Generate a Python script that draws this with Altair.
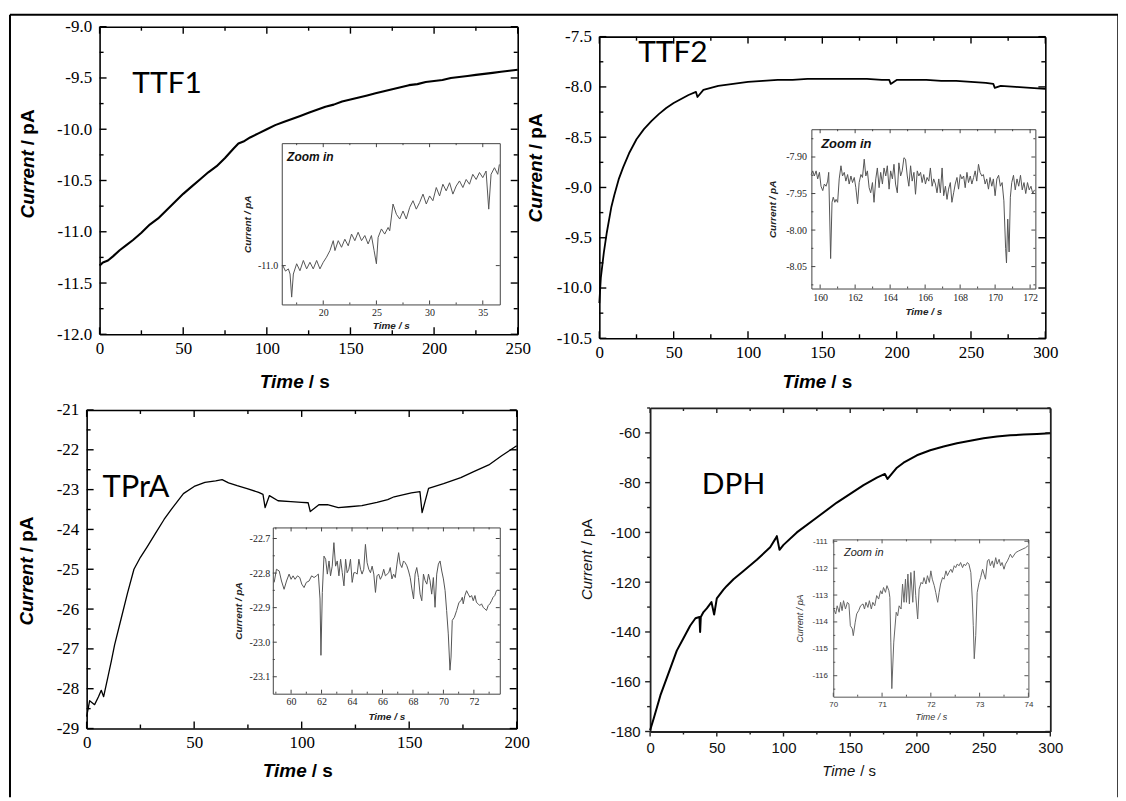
import altair as alt
import pandas as pd

# ---------------- main traces ----------------
ttf1_t = [0, 2, 5, 8, 12, 16, 20, 25, 30, 35, 40, 45, 50, 55, 60, 65, 70, 75, 80, 83,
          86, 90, 95, 100, 105, 110, 115, 120, 125, 130, 135, 140, 145, 150, 155, 160, 165, 170, 175, 180,
          185, 190, 195, 200, 205, 210, 215, 220, 225, 230, 235, 240, 245, 250]
ttf1_i = [-11.33, -11.30, -11.28, -11.24, -11.18, -11.13, -11.08, -11.01, -10.93, -10.87,
          -10.79, -10.71, -10.63, -10.56, -10.49, -10.42, -10.36, -10.28, -10.19, -10.14,
          -10.12, -10.08, -10.04, -10.00, -9.96, -9.93, -9.90, -9.87, -9.84, -9.81,
          -9.78, -9.76, -9.73, -9.71, -9.69, -9.67, -9.65, -9.63, -9.61, -9.59,
          -9.57, -9.56, -9.54, -9.53, -9.52, -9.50, -9.49, -9.48, -9.47, -9.46,
          -9.45, -9.44, -9.43, -9.42]

ttf2_t = [0, 1, 3, 5, 8, 10, 13, 16, 20, 25, 30, 35, 40, 45, 50, 55, 60, 65, 66, 70,
          75, 80, 90, 100, 110, 120, 130, 140, 150, 160, 170, 180, 190, 195, 196, 200, 210, 220, 230, 240,
          250, 260, 265, 266, 270, 280, 290, 300]
ttf2_i = [-10.15, -9.90, -9.65, -9.45, -9.20, -9.08, -8.92, -8.80, -8.66, -8.52,
          -8.42, -8.34, -8.27, -8.21, -8.16, -8.12, -8.08, -8.05, -8.10, -8.03,
          -8.01, -7.99, -7.97, -7.95, -7.94, -7.93, -7.93, -7.92, -7.92, -7.92,
          -7.92, -7.92, -7.93, -7.93, -7.97, -7.93, -7.93, -7.93, -7.94, -7.94,
          -7.95, -7.96, -7.97, -8.01, -7.99, -8.00, -8.01, -8.02]

tpra_t = [0, 1.4, 3.7, 5.5, 6.8, 7.9, 9.9, 11.5, 13, 16, 19, 22, 25, 28, 32, 36, 40, 45, 50, 55,
          60, 63, 66, 70, 75, 80, 82, 83, 85, 89, 95, 100, 103, 104, 108, 112, 117, 122, 128, 135,
          140, 143, 151, 155, 156, 159, 166, 174, 180, 187, 193, 200]
tpra_i = [-28.7, -28.3, -28.4, -28.2, -28.04, -28.2, -27.7, -27.3, -26.9, -26.25,
          -25.6, -25.0, -24.7, -24.45, -24.1, -23.75, -23.45, -23.1, -22.92, -22.82,
          -22.78, -22.75, -22.83, -22.9, -22.98, -23.07, -23.12, -23.45, -23.15, -23.28,
          -23.3, -23.32, -23.33, -23.55, -23.38, -23.38, -23.45, -23.43, -23.4, -23.32,
          -23.25, -23.18, -23.08, -23.05, -23.58, -22.97, -22.85, -22.7, -22.55, -22.38,
          -22.15, -21.9]

dph_t = [0, 2.7, 7.7, 15, 20, 25, 30, 34, 37, 37.5, 38, 40, 42.5, 46, 48, 50, 55, 57.5, 62.5, 70,
         80, 90, 94, 95, 97, 100, 110, 125, 140, 150, 160, 170, 176, 178, 185, 190, 200, 210, 220, 230,
         240, 250, 260, 270, 280, 290, 300]
dph_i = [-179.5, -174.8, -165.5, -154.8, -147.5, -142.5, -137.5, -134.5, -134, -140,
         -134, -132, -130.5, -128, -133, -126.5, -123, -121.5, -118.8, -115.5,
         -111, -106, -102.5, -101.5, -107, -105, -100, -94, -88, -84.5,
         -81, -78, -76.5, -78.5, -74, -72, -69, -67, -65.5, -64.2,
         -63.2, -62.2, -61.5, -61, -60.7, -60.5, -60.2]

# ---------------- zoom-in traces ----------------
ttf1z_t = [16.20, 16.45, 16.72, 16.88, 17.03, 17.19, 17.50, 17.81, 18.13, 18.44,
           18.75, 19.06, 19.38, 19.69, 20.00, 20.31, 20.63, 20.94, 21.10, 21.41,
           21.72, 22.03, 22.35, 22.66, 22.97, 23.28, 23.60, 23.91, 24.22, 24.53,
           24.78, 25.00, 25.16, 25.47, 25.78, 26.10, 26.25, 26.56, 26.88, 27.19,
           27.50, 27.81, 28.13, 28.44, 28.75, 29.06, 29.38, 29.69, 30.00, 30.31,
           30.63, 30.94, 31.25, 31.56, 31.88, 32.19, 32.50, 32.81, 33.13, 33.44,
           33.75, 34.06, 34.38, 34.69, 35.00, 35.31, 35.56, 35.78, 36.10, 36.41,
           36.56]
ttf1z_i = [-11.000, -11.015, -11.009, -11.023, -11.086, -11.023, -10.995, -11.014, -10.986, -11.009,
           -10.991, -11.009, -10.986, -11.009, -10.991, -10.977, -10.959, -10.932, -10.959, -10.932,
           -10.950, -10.928, -10.946, -10.914, -10.932, -10.909, -10.932, -10.918, -10.941, -10.918,
           -10.959, -10.995, -10.923, -10.900, -10.914, -10.896, -10.905, -10.832, -10.860, -10.873,
           -10.851, -10.873, -10.841, -10.823, -10.846, -10.828, -10.805, -10.832, -10.810, -10.823,
           -10.787, -10.810, -10.778, -10.796, -10.774, -10.805, -10.783, -10.769, -10.787, -10.765,
           -10.778, -10.751, -10.765, -10.746, -10.760, -10.742, -10.846, -10.751, -10.733, -10.751,
           -10.724]

ttf2z_t = [159.49, 159.58, 159.67, 159.77, 159.86, 159.96, 160.05, 160.15, 160.24, 160.34,
           160.43, 160.49, 160.60, 160.68, 160.75, 160.84, 160.91, 161.00, 161.09, 161.19,
           161.28, 161.38, 161.47, 161.57, 161.66, 161.76, 161.85, 161.95, 162.04, 162.14,
           162.23, 162.33, 162.42, 162.52, 162.61, 162.70, 162.80, 162.89, 162.99, 163.08,
           163.18, 163.27, 163.37, 163.46, 163.56, 163.65, 163.75, 163.84, 163.94, 164.03,
           164.13, 164.22, 164.31, 164.41, 164.50, 164.60, 164.69, 164.79, 164.88, 164.98,
           165.07, 165.17, 165.26, 165.36, 165.45, 165.55, 165.64, 165.74, 165.83, 165.92,
           166.02, 166.11, 166.21, 166.30, 166.40, 166.49, 166.59, 166.68, 166.78, 166.87,
           166.97, 167.06, 167.16, 167.25, 167.34, 167.44, 167.53, 167.63, 167.72, 167.82,
           167.91, 168.01, 168.10, 168.20, 168.29, 168.39, 168.48, 168.58, 168.67, 168.77,
           168.86, 168.95, 169.05, 169.14, 169.24, 169.33, 169.43, 169.52, 169.62, 169.71,
           169.81, 169.90, 170.00, 170.10, 170.20, 170.30, 170.40, 170.50, 170.60, 170.65,
           170.72, 170.80, 170.87, 170.95, 171.05, 171.15, 171.25, 171.35, 171.45, 171.55,
           171.65, 171.75, 171.85, 171.95, 172.05, 172.15, 172.25]
ttf2z_i = [-7.924, -7.919, -7.926, -7.919, -7.930, -7.921, -7.940, -7.946, -7.937, -7.940,
           -7.933, -7.921, -8.039, -7.962, -7.955, -7.962, -7.958, -7.962, -7.930, -7.912,
           -7.926, -7.921, -7.933, -7.924, -7.937, -7.926, -7.935, -7.928, -7.942, -7.964,
           -7.935, -7.924, -7.928, -7.903, -7.926, -7.919, -7.942, -7.949, -7.935, -7.962,
           -7.930, -7.915, -7.942, -7.921, -7.937, -7.915, -7.926, -7.912, -7.944, -7.919,
           -7.930, -7.910, -7.937, -7.949, -7.908, -7.926, -7.919, -7.901, -7.903, -7.926,
           -7.940, -7.912, -7.933, -7.921, -7.951, -7.919, -7.926, -7.921, -7.935, -7.924,
           -7.937, -7.928, -7.933, -7.915, -7.940, -7.930, -7.937, -7.949, -7.930, -7.949,
           -7.915, -7.953, -7.940, -7.958, -7.944, -7.935, -7.962, -7.949, -7.937, -7.928,
           -7.944, -7.924, -7.930, -7.926, -7.942, -7.921, -7.935, -7.926, -7.937, -7.928,
           -7.919, -7.933, -7.910, -7.921, -7.926, -7.924, -7.937, -7.930, -7.944, -7.928,
           -7.940, -7.930, -7.953, -7.930, -7.925, -7.940, -7.935, -7.960, -8.025, -8.045,
           -7.985, -8.030, -7.955, -7.935, -7.925, -7.945, -7.930, -7.940, -7.925, -7.945,
           -7.935, -7.950, -7.935, -7.945, -7.940, -7.950, -7.945]

tpraz_t = [58.89, 59.04, 59.22, 59.37, 59.54, 59.70, 59.87, 60.00, 60.13, 60.26,
           60.42, 60.57, 60.70, 60.85, 61.00, 61.18, 61.35, 61.51, 61.66, 61.79,
           61.90, 61.96, 62.05, 62.16, 62.27, 62.38, 62.49, 62.59, 62.70, 62.81,
           62.92, 63.03, 63.14, 63.25, 63.36, 63.47, 63.58, 63.68, 63.79, 63.90,
           64.01, 64.12, 64.23, 64.34, 64.45, 64.56, 64.66, 64.77, 64.88, 64.99,
           65.10, 65.21, 65.32, 65.43, 65.54, 65.64, 65.75, 65.86, 65.97, 66.08,
           66.19, 66.41, 66.51, 66.62, 66.73, 66.84, 66.95, 67.06, 67.16, 67.27,
           67.38, 67.49, 67.60, 67.71, 67.82, 67.93, 68.04, 68.14, 68.25, 68.36,
           68.47, 68.58, 68.69, 68.80, 68.91, 69.02, 69.12, 69.23, 69.34, 69.45,
           69.56, 69.67, 69.78, 69.89, 70.00, 70.11, 70.21, 70.32, 70.43, 70.50,
           70.58, 70.72, 70.87, 71.02, 71.15, 71.24, 71.30, 71.41, 71.52, 71.63,
           71.74, 71.85, 71.96, 72.07, 72.17, 72.28, 72.39, 72.50, 72.61, 72.72,
           72.83, 72.94, 73.05, 73.16, 73.26, 73.37, 73.48, 73.59]
tpraz_i = [-22.827, -22.789, -22.794, -22.823, -22.847, -22.823, -22.803, -22.818, -22.808, -22.818,
           -22.808, -22.813, -22.832, -22.842, -22.827, -22.823, -22.808, -22.813, -22.808, -22.803,
           -22.875, -23.038, -22.856, -22.751, -22.760, -22.803, -22.765, -22.808, -22.780, -22.712,
           -22.780, -22.765, -22.808, -22.760, -22.799, -22.837, -22.760, -22.799, -22.789, -22.760,
           -22.827, -22.799, -22.799, -22.803, -22.760, -22.789, -22.803, -22.789, -22.717, -22.770,
           -22.789, -22.799, -22.780, -22.803, -22.856, -22.808, -22.803, -22.818, -22.808, -22.789,
           -22.808, -22.799, -22.784, -22.817, -22.803, -22.813, -22.774, -22.741, -22.774, -22.784,
           -22.765, -22.770, -22.779, -22.794, -22.813, -22.846, -22.875, -22.803, -22.784, -22.813,
           -22.861, -22.880, -22.803, -22.822, -22.832, -22.803, -22.822, -22.861, -22.813, -22.899,
           -22.803, -22.774, -22.765, -22.794, -22.817, -22.851, -22.908, -22.976, -23.081, -23.043,
           -22.937, -22.928, -22.908, -22.885, -22.880, -22.870, -22.889, -22.865, -22.851, -22.861,
           -22.870, -22.865, -22.880, -22.865, -22.885, -22.889, -22.894, -22.889, -22.899, -22.904,
           -22.908, -22.894, -22.889, -22.880, -22.870, -22.865, -22.851, -22.849]

dphz_t = [70.01, 70.05, 70.08, 70.12, 70.15, 70.18, 70.21, 70.25, 70.29, 70.32,
          70.35, 70.39, 70.41, 70.45, 70.48, 70.52, 70.56, 70.61, 70.64, 70.67,
          70.71, 70.74, 70.78, 70.81, 70.85, 70.89, 70.93, 70.97, 71.00, 71.03,
          71.07, 71.10, 71.14, 71.16, 71.18, 71.20, 71.24, 71.29, 71.32, 71.35,
          71.39, 71.42, 71.45, 71.48, 71.50, 71.53, 71.56, 71.59, 71.63, 71.66,
          71.69, 71.73, 71.76, 71.80, 71.83, 71.86, 71.90, 71.93, 71.97, 72.00,
          72.03, 72.07, 72.10, 72.14, 72.17, 72.20, 72.24, 72.27, 72.31, 72.34,
          72.37, 72.41, 72.44, 72.48, 72.51, 72.54, 72.58, 72.61, 72.65, 72.68,
          72.71, 72.75, 72.78, 72.82, 72.85, 72.87, 72.89, 72.92, 72.95, 72.99,
          73.02, 73.06, 73.09, 73.12, 73.16, 73.19, 73.22, 73.26, 73.29, 73.33,
          73.36, 73.40, 73.43, 73.46, 73.50, 73.53, 73.57, 73.60, 73.63, 73.67,
          73.74, 73.80, 73.87, 73.94, 73.99]
dphz_i = [-113.52, -113.70, -113.40, -113.64, -113.27, -113.58, -113.21, -113.52, -113.27, -113.33,
          -114.14, -114.26, -114.51, -114.01, -113.70, -113.58, -113.40, -113.33, -113.52, -113.27,
          -113.46, -113.21, -113.52, -113.27, -113.40, -113.02, -113.15, -112.84, -112.96, -112.72,
          -112.90, -112.65, -112.84, -113.09, -114.75, -116.48, -114.75, -113.64, -113.77, -113.40,
          -113.52, -112.59, -113.27, -112.41, -113.27, -112.22, -113.33, -112.16, -113.27, -112.10,
          -113.02, -113.89, -112.78, -112.53, -112.59, -112.35, -112.59, -112.28, -112.53, -112.10,
          -112.41, -112.65, -112.90, -113.27, -112.90, -112.59, -112.35, -112.41, -112.10, -112.28,
          -112.16, -112.04, -112.16, -111.91, -111.98, -111.85, -111.91, -111.79, -111.98, -111.85,
          -111.91, -111.79, -111.85, -112.16, -113.15, -114.14, -115.37, -114.51, -112.90, -112.53,
          -112.35, -112.04, -112.22, -112.41, -111.73, -111.67, -111.91, -111.73, -111.98, -111.61,
          -111.85, -111.67, -111.91, -111.79, -112.04, -111.85, -111.73, -111.61, -111.48, -111.61,
          -111.42, -111.36, -111.30, -111.24, -111.17]

# ---------------- layout & style ----------------
W, H = 1113, 786
SERIF = "Liberation Serif"
SANS = "Liberation Sans"
MINUS = "\u2212"


def lab_expr(fmt):
    return "replace(format(datum.value, '%s'), '%s', '-')" % (fmt, MINUS)


def style(**kw):
    base = dict(color="black", tw=1.4, dw=1.6, maj=7, mnr=4, outward=False,
                lfont=SERIF, lsize=17, lcolor="black", tsize=19, tweight="bold",
                lwidth=1.7, lcol="black")
    base.update(kw)
    return base


TTF1_S = style(lwidth=2.1)
TTF2_S = style(lwidth=1.8)
TPRA_S = style(lwidth=1.3)
DPH_S = style(color="#222222", dw=1.8, maj=5, mnr=3, outward=True, lfont=SANS, lsize=15,
              lcolor="#111111", tsize=15, tweight="normal", lwidth=2.0)
INS_TTF = style(color="#444444", tw=1, dw=1, maj=4, mnr=2, lsize=10, lcolor="#222222",
                tsize=10, lwidth=1, lcol="#555555")
INS_DPH = style(color="#555555", tw=1, dw=1, maj=4, mnr=2, lfont=SANS, lsize=8,
                lcolor="#333333", tsize=9, tweight="normal", lwidth=1, lcol="#666666")


def panel(p):
    xs = alt.Scale(domain=p["xdom"], range=[p["x0"], p["x1"]], nice=False, zero=False)
    ys = alt.Scale(domain=p["ydom"], range=[p["yb"], p["yt"]], nice=False, zero=False)
    s = p["style"]
    common = dict(grid=False, ticks=False, tickSize=0, domainColor=s["color"],
                  domainWidth=s["dw"], labelOverlap=False)
    lab_common = dict(labels=True, domain=True, labelFont=s["lfont"],
                      labelFontSize=s["lsize"], labelColor=s["lcolor"], labelFlush=False,
                      titleFont=SANS, titleFontSize=s["tsize"], titleFontStyle="italic",
                      titleFontWeight=s["tweight"], titleColor=s["lcolor"], **common)
    xlab = alt.Axis(orient="bottom", offset=p["yb"] - H, values=p["xmaj"],
                    labelExpr=lab_expr(p["xfmt"]), labelPadding=p["xlpad"],
                    title=p.get("xtitle"), titlePadding=p["xtpad"], **lab_common)
    ylab = alt.Axis(orient="left", offset=-p["x0"], values=p["ymaj"],
                    labelExpr=lab_expr(p["yfmt"]), labelPadding=p["ylpad"],
                    title=p.get("ytitle"), titlePadding=p["ytpad"], **lab_common)

    df = pd.DataFrame({"t": p["t"], "i": p["i"]})
    line = alt.Chart(df).mark_line(color=s["lcol"], strokeWidth=s["lwidth"],
                                   strokeJoin="round").encode(
        x=alt.X("t:Q", scale=xs, axis=xlab), y=alt.Y("i:Q", scale=ys, axis=ylab))

    x0, x1, yb, yt = p["x0"], p["x1"], p["yb"], p["yt"]
    layers = [line]

    # top and right frame lines (axis domains, no ticks/labels)
    dom = pd.DataFrame({"t": p["xdom"], "i": p["ydom"]})
    frame_x = alt.Axis(orient="bottom", offset=yt - H, values=p["xmaj"], labels=False,
                       domain=True, title=None, **common)
    frame_y = alt.Axis(orient="left", offset=-x1, values=p["ymaj"], labels=False,
                       domain=True, title=None, **common)
    layers.append(alt.Chart(dom).mark_point(opacity=0).encode(
        x=alt.X("t:Q", scale=xs, axis=frame_x), y=alt.Y("i:Q", scale=ys, axis=frame_y)))

    # tick marks drawn as rules at the tick values
    def xticks(values, ypix, length):
        if not values:
            return None
        d = pd.DataFrame({"v": values})
        return alt.Chart(d).mark_rule(color=s["color"], strokeWidth=s["tw"]).encode(
            x=alt.X("v:Q", scale=xs, axis=None), y=alt.value(ypix), y2=alt.value(ypix + length))

    def yticks(values, xpix, length):
        if not values:
            return None
        d = pd.DataFrame({"v": values})
        return alt.Chart(d).mark_rule(color=s["color"], strokeWidth=s["tw"]).encode(
            y=alt.Y("v:Q", scale=ys, axis=None), x=alt.value(xpix), x2=alt.value(xpix + length))

    bdir = 1 if s["outward"] else -1
    ldir = -1 if s["outward"] else 1
    tick_layers = [
        xticks(p["xmaj"], yb, bdir * s["maj"]), xticks(p["xmin"], yb, bdir * s["mnr"]),
        xticks(p["xmaj"], yt, s["maj"]), xticks(p["xmin"], yt, s["mnr"]),
        yticks(p["ymaj"], x0, ldir * s["maj"]), yticks(p["ymin"], x0, ldir * s["mnr"]),
        yticks(p["ymaj"], x1, -s["maj"]), yticks(p["ymin"], x1, -s["mnr"]),
    ]
    layers.extend([tl for tl in tick_layers if tl is not None])

    for (txt, tx, ty, font, size, weight, fstyle, color) in p.get("texts", []):
        tdf = pd.DataFrame({"t": [tx], "i": [ty], "lab": [txt]})
        layers.append(
            alt.Chart(tdf).mark_text(align="left", baseline="alphabetic", font=font,
                                     fontSize=size, fontWeight=weight, fontStyle=fstyle,
                                     color=color).encode(
                x=alt.X("t:Q", scale=xs, axis=None), y=alt.Y("i:Q", scale=ys, axis=None),
                text="lab:N"))
    return layers


def title_pair(xpix, ypix, first, second, size, weight, color, vertical):
    """Axis title with an italic first word and an upright rest, split at (xpix, ypix)."""
    angle = 270 if vertical else 0
    gap = 5
    out = []
    d1 = pd.DataFrame({"lab": [first]})
    d2 = pd.DataFrame({"lab": [second]})
    out.append(alt.Chart(d1).mark_text(align="right", baseline="middle", angle=angle, font=SANS,
                                       fontSize=size, fontWeight=weight, fontStyle="italic",
                                       color=color).encode(
        x=alt.value(xpix), y=alt.value(ypix), text="lab:N"))
    if vertical:
        x2, y2 = xpix, ypix - gap
    else:
        x2, y2 = xpix + gap, ypix
    out.append(alt.Chart(d2).mark_text(align="left", baseline="middle", angle=angle, font=SANS,
                                       fontSize=size, fontWeight=weight, fontStyle="normal",
                                       color=color).encode(
        x=alt.value(x2), y=alt.value(y2), text="lab:N"))
    return out


def steps(a, b, st):
    out, v = [], a
    while v <= b + 1e-9:
        out.append(round(v, 4))
        v += st
    return out


panels = [
    dict(t=ttf1_t, i=ttf1_i, x0=90, x1=510, yb=321, yt=12, xdom=[0, 250], ydom=[-12, -9],
         xmaj=steps(0, 250, 50), xmin=steps(25, 225, 50), ymaj=steps(-12, -9, 0.5),
         ymin=steps(-11.75, -9.25, 0.5), xfmt="d", yfmt=".1f", xlpad=6, ylpad=8,
         xtpad=12, ytpad=15, style=TTF1_S,
         texts=[("TTF1", 19.6, -9.65, "Lato", 30, "normal", "normal", "black")]),
    dict(t=ttf2_t, i=ttf2_i, x0=592, x1=1040, yb=325, yt=22, xdom=[0, 300], ydom=[-10.5, -7.5],
         xmaj=steps(0, 300, 50), xmin=steps(25, 275, 50), ymaj=steps(-10.5, -7.5, 0.5),
         ymin=steps(-10.25, -7.75, 0.5), xfmt="d", yfmt=".1f", xlpad=6, ylpad=8,
         xtpad=12, ytpad=15, style=TTF2_S,
         texts=[("TTF2", 26.1, -7.757, "Lato", 30, "normal", "normal", "black")]),
    dict(t=tpra_t, i=tpra_i, x0=77, x1=509, yb=717, yt=397, xdom=[0, 200], ydom=[-29, -21],
         xmaj=steps(0, 200, 50), xmin=steps(25, 175, 50), ymaj=steps(-29, -21, 1),
         ymin=steps(-28.5, -21.5, 1), xfmt="d", yfmt="d", xlpad=6, ylpad=8,
         xtpad=10, ytpad=15, style=TPRA_S,
         texts=[("TPrA", 7.4, -23.175, "Lato", 31, "normal", "normal", "black")]),
    dict(t=dph_t, i=dph_i, x0=643, x1=1045, yb=720, yt=395, xdom=[0, 300], ydom=[-180, -50],
         xmaj=steps(0, 300, 50), xmin=steps(25, 275, 50), ymaj=steps(-180, -60, 20),
         ymin=steps(-170, -50, 20), xfmt="d", yfmt="d", xlpad=9, ylpad=10,
         xtpad=8, ytpad=16, style=DPH_S,
         texts=[("DPH", 38.8, -84.4, "Lato", 30, "normal", "normal", "black")]),
    # insets
    dict(t=ttf1z_t, i=ttf1z_i, x0=273, x1=492, yb=291, yt=129, xdom=[16.1, 36.6],
         ydom=[-11.106, -10.666], xmaj=[20, 25, 30, 35], xmin=[17.5, 22.5, 27.5, 32.5],
         ymaj=[-11.0], ymin=[], xfmt="d", yfmt=".1f", xlpad=3, ylpad=4, xtpad=3, ytpad=5,
         xtitle="Time / s", ytitle="Current / pA", style=INS_TTF,
         texts=[("Zoom in", 16.6, -10.715, SANS, 12, "bold", "italic", "#111111")]),
    dict(t=ttf2z_t, i=ttf2z_i, x0=805, x1=1030, yb=275, yt=115, xdom=[159.5, 172.3],
         ydom=[-8.08, -7.862], xmaj=steps(160, 172, 2), xmin=steps(161, 171, 2),
         ymaj=[-8.05, -8.0, -7.95, -7.9], ymin=[-8.075, -8.025, -7.975, -7.925, -7.875],
         xfmt="d", yfmt=".2f", xlpad=4, ylpad=5, xtpad=4, ytpad=8,
         xtitle="Time / s", ytitle="Current / pA", style=INS_TTF,
         texts=[("Zoom in", 160.06, -7.8877, SANS, 13, "bold", "italic", "#111111")]),
    dict(t=tpraz_t, i=tpraz_i, x0=264, x1=492, yb=682, yt=515, xdom=[58.8, 73.7],
         ydom=[-23.149, -22.668], xmaj=steps(60, 72, 2), xmin=steps(59, 73, 2),
         ymaj=[-23.1, -23.0, -22.9, -22.8, -22.7], ymin=[-23.05, -22.95, -22.85, -22.75],
         xfmt="d", yfmt=".1f", xlpad=3, ylpad=3, xtpad=5, ytpad=6,
         xtitle="Time / s", ytitle="Current / pA", style=INS_TTF),
    dict(t=dphz_t, i=dphz_i, x0=827, x1=1023, yb=685, yt=527, xdom=[70, 74],
         ydom=[-116.78, -110.93], xmaj=[70, 71, 72, 73, 74], xmin=[70.5, 71.5, 72.5, 73.5],
         ymaj=[-116, -115, -114, -113, -112, -111],
         ymin=[-116.5, -115.5, -114.5, -113.5, -112.5, -111.5],
         xfmt="d", yfmt="d", xlpad=4, ylpad=6, xtpad=4, ytpad=7,
         xtitle="Time / s", ytitle="Current / pA", style=INS_DPH,
         texts=[("Zoom in", 70.22, -111.56, SANS, 11, "normal", "italic", "#222222")]),
]

all_layers = []
for p in panels:
    all_layers.extend(panel(p))

# main-panel axis titles (italic quantity, upright unit)
all_layers += title_pair(18.5, 136, "Current", "/ pA", 19, "bold", "black", True)
all_layers += title_pair(295, 369, "Time", "/ s", 19, "bold", "black", False)
all_layers += title_pair(528, 140, "Current", "/ pA", 19, "bold", "black", True)
all_layers += title_pair(820, 369, "Time", "/ s", 19, "bold", "black", False)
all_layers += title_pair(17, 545, "Current", "/ pA", 19, "bold", "black", True)
all_layers += title_pair(298, 760, "Time", "/ s", 19, "bold", "black", False)
all_layers += title_pair(580, 538, "Current", "/ pA", 15, "normal", "#111111", True)
all_layers += title_pair(849, 760, "Time", "/ s", 15, "normal", "#111111", False)

# outer border: top, left and right edges
edge = pd.DataFrame({"k": [0]})
all_layers.append(alt.Chart(edge).mark_rule(color="black", strokeWidth=2).encode(
    x=alt.value(0), x2=alt.value(W), y=alt.value(0)))
all_layers.append(alt.Chart(edge).mark_rule(color="black", strokeWidth=2).encode(
    x=alt.value(0), y=alt.value(0), y2=alt.value(H)))
all_layers.append(alt.Chart(edge).mark_rule(color="black", strokeWidth=1.5).encode(
    x=alt.value(W), y=alt.value(0), y2=alt.value(H)))

chart = (
    alt.layer(*all_layers)
    .resolve_scale(x="independent", y="independent")
    .resolve_axis(x="independent", y="independent")
    .properties(width=W, height=H, autosize=alt.AutoSizeParams(type="none"),
                padding={"left": 2, "top": 5, "right": 0, "bottom": 0})
    .configure_view(stroke="transparent")
    .configure_axis(grid=False)
)

chart.save("out.html", embed_options={"renderer": "svg", "actions": False})
